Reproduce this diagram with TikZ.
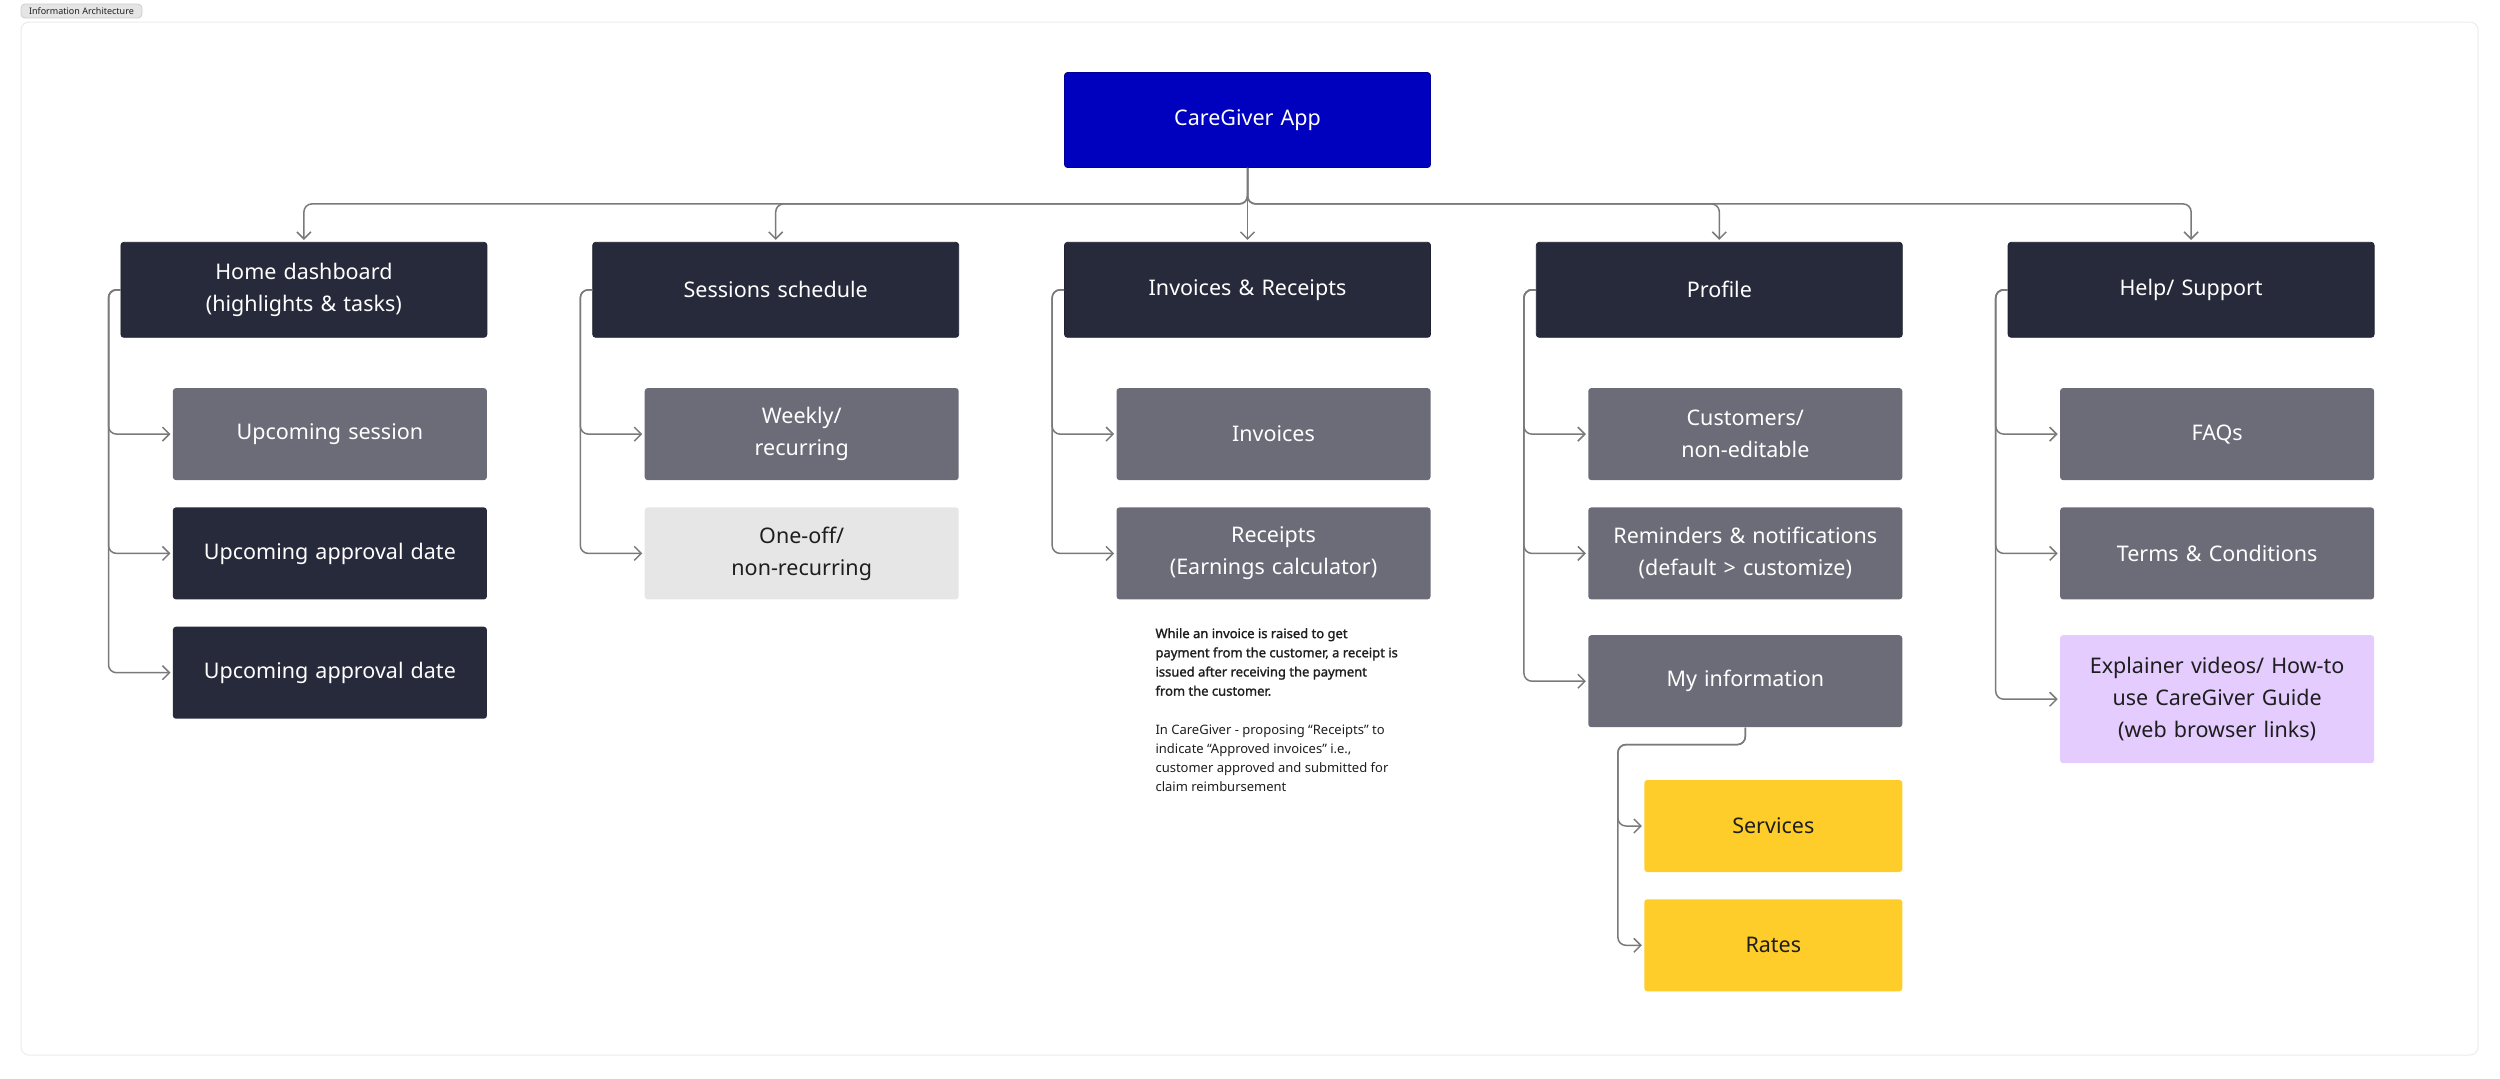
\documentclass[tikz,border=0pt]{standalone}
\usepackage{fontspec}
\setmainfont{Noto Sans}[AutoFakeBold=1.5]
\usetikzlibrary{positioning,arrows.meta,calc}

\definecolor{navy}{HTML}{272A3B}
\definecolor{slate}{HTML}{6B6C78}
\definecolor{mist}{HTML}{E6E6E6}
\definecolor{royal}{HTML}{0000BF}
\definecolor{sun}{HTML}{FFCD29}
\definecolor{lilac}{HTML}{E4CCFF}
\definecolor{wire}{HTML}{7A7A7A}
\definecolor{ink}{HTML}{1E1E1E}
\definecolor{frame}{HTML}{EBEBEB}

\begin{document}
\begin{tikzpicture}[shorten >=1pt, node distance=52.5pt, font=\fontsize{10.75}{16}\selectfont]
		\tikzstyle{box}=[rounded corners=1.5pt,minimum height=47.5pt,minimum width=183pt,text width=170pt,align=center,inner sep=0pt]
		\tikzstyle{root}=[box,draw=royal!80!black,fill=royal,text=white]
		\tikzstyle{section}=[box,draw=navy!80!black,fill=navy,text=white]
		\tikzstyle{page}=[box,minimum width=157pt,minimum height=46pt,text width=150pt]
		\tikzstyle{dark}=[page,fill=navy,text=white]
		\tikzstyle{grey}=[page,fill=slate,text=white]
		\tikzstyle{light}=[page,fill=mist,text=ink]
		\tikzstyle{guide}=[page,fill=lilac,text=ink,minimum height=64pt]
		\tikzstyle{sub}=[page,minimum width=129pt,text width=120pt,fill=sun,text=ink]
		\tikzstyle{note}=[align=left,inner sep=0pt,text=ink,font=\fontsize{6.5}{9.6}\selectfont]
		\tikzstyle{tag}=[draw=black!20,fill=black!10,rounded corners=2pt,minimum width=60.5pt,minimum height=7pt,inner sep=0pt,text=ink,font=\fontsize{4.5}{5}\selectfont]
		\tikzstyle{link}=[draw=wire,line width=0.75pt,rounded corners=4pt,-{Straight Barb[length=3.5pt,width=7pt]}]
		
		\useasboundingbox (0,0) rectangle (1250pt,-539pt);
		\draw[frame,line width=0.5pt,rounded corners=4pt] (10.5pt,-11pt) rectangle (1239pt,-527.5pt);
		\node[tag] (title) at (40.75pt,-5.5pt) {Information Architecture};
		
		\node[root] (app) at (623.75pt,-60pt) {CareGiver App};
		
		\node[section, below=37pt of app] (inv) {Invoices \& Receipts};
		\node[section, left=of inv] (sess) {Sessions schedule};
		\node[section, left=of sess] (home) {Home dashboard\\(highlights \& tasks)};
		\node[section, right=of inv] (prof) {Profile};
		\node[section, right=of prof] (help) {Help/ Support};
		
		% home dashboard
		\node[grey, below left=25pt and 0pt of home.south east] (home1) {Upcoming session};
		\node[dark, below=13.25pt of home1] (home2) {Upcoming approval date};
		\node[dark, below=13.25pt of home2] (home3) {Upcoming approval date};
		% sessions
		\node[grey, below left=25pt and 0pt of sess.south east] (weekly) {Weekly/\\recurring};
		\node[light, below=13.25pt of weekly] (oneoff) {One-off/\\non-recurring};
		% invoices
		\node[grey, below left=25pt and 0pt of inv.south east] (invoices) {Invoices};
		\node[grey, below=13.25pt of invoices] (receipts) {Receipts\\(Earnings calculator)};
		% profile
		\node[grey, below left=25pt and 0pt of prof.south east] (customers) {Customers/\\non-editable};
		\node[grey, below=13.25pt of customers] (reminders) {Reminders \& notifications\\(default > customize)};
		\node[grey, below=17.5pt of reminders] (myinfo) {My information};
		\node[sub, below left=26pt and 0pt of myinfo.south east] (services) {Services};
		\node[sub, below=13.25pt of services] (rates) {Rates};
		% help
		\node[grey, below left=25pt and 0pt of help.south east] (faqs) {FAQs};
		\node[grey, below=13.25pt of faqs] (terms) {Terms \& Conditions};
		\node[guide, below=17.5pt of terms] (videos) {Explainer videos/ How-to\\use CareGiver Guide\\(web browser links)};
		
		\node[note, anchor=north west] (remark) at ([xshift=19.5pt,yshift=-14pt]receipts.south west) {\textbf{While an invoice is raised to get}\\\textbf{payment from the customer, a receipt is}\\\textbf{issued after receiving the payment}\\\textbf{from the customer.}\\[9.6pt]In CareGiver - proposing “Receipts” to\\indicate “Approved invoices” i.e.,\\customer approved and submitted for\\claim reimbursement};
		
		\foreach \j in {home,sess,prof,help}
		\draw[link] (app.south) -- ++(0,-18pt) -| (\j.north);
		\draw[link] (app.south) -- (inv.north);
		
		\foreach \i/\j in {home/home1,home/home2,home/home3,sess/weekly,sess/oneoff,inv/invoices,inv/receipts,prof/customers,prof/reminders,prof/myinfo,help/faqs,help/terms,help/videos}
		\draw[link] (\i.west) -- ++(-6pt,0) |- (\j.west);
		
		\foreach \j in {services,rates}
		\draw[link] (myinfo.south) -- ++(0,-8.5pt) -| ([xshift=-13pt]\j.west) -- (\j.west);
		
	\end{tikzpicture}
\end{document}
